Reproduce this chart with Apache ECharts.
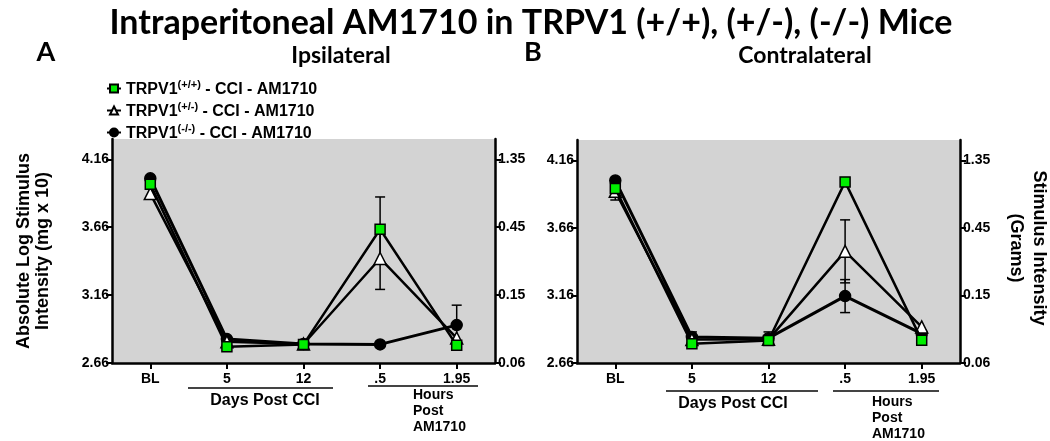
<!DOCTYPE html>
<html><head><meta charset="utf-8">
<script src="https://cdn.jsdelivr.net/npm/echarts@6/dist/echarts.min.js"></script>
<style>html,body{margin:0;padding:0;background:#fff}#c{width:1050px;height:441px}</style>
</head><body><div id="c"></div>
<script>
const categories = ['BL', '5', '12', '.5', '1.95'];
const seriesNames = ['TRPV1(+/+) - CCI - AM1710', 'TRPV1(+/-) - CCI - AM1710', 'TRPV1(-/-) - CCI - AM1710'];
// Ipsilateral
const ipsiWT  = [3.976, 2.780, 2.797, 3.645, 2.790];
const ipsiHet = [3.908, 2.817, 2.800, 3.430, 2.844];
const ipsiKO  = [4.020, 2.836, 2.800, 2.797, 2.939];
const ipsiWTErr  = [0, 0, 0, 0.238, 0];
const ipsiHetErr = [0.040, 0, 0, 0.228, 0];
const ipsiKOErr  = [0, 0, 0, 0, 0.147];
// Contralateral
const contraWT  = [3.952, 2.802, 2.827, 4.000, 2.829];
const contraHet = [3.930, 2.834, 2.835, 3.486, 2.927];
const contraKO  = [4.011, 2.853, 2.844, 3.155, 2.878];
const contraWTErr  = [0, 0, 0, 0, 0];
const contraHetErr = [0.064, 0, 0, 0.233, 0];
const contraKOErr  = [0, 0.037, 0.046, 0.122, 0];
// Axis ticks
const leftTicks = [2.66, 3.16, 3.66, 4.16];
const rightTickLabels = ['0.06', '0.15', '0.45', '1.35'];

const chart = echarts.init(document.getElementById('c'), null, {renderer: 'canvas'});
const FONT = 'Liberation Sans, Arial, sans-serif';
const TFONT = 'Lato, Open Sans, sans-serif';

const styles = [
  {symbol: 'rect', size: 10, color: '#00ee00', lw: 2.5},
  {symbol: 'triangle', size: 12, color: '#ffffff', lw: 2.5},
  {symbol: 'circle', size: 11, color: '#000000', lw: 3}
];

function errData(vals, errs) {
  const out = [];
  vals.forEach((v, i) => { if (errs[i] > 0) out.push([i, v - errs[i], v + errs[i]]); });
  return out;
}
function errSeries(vals, errs, gi) {
  return {
    type: 'custom', xAxisIndex: gi, yAxisIndex: gi * 2, z: 1, silent: true,
    data: errData(vals, errs),
    encode: {x: 0, y: [1, 2]},
    renderItem: function (params, api) {
      const lo = api.coord([api.value(0), api.value(1)]);
      const hi = api.coord([api.value(0), api.value(2)]);
      const cw = 5;
      const st = {stroke: '#000', lineWidth: 1.5};
      return {type: 'group', children: [
        {type: 'line', shape: {x1: lo[0], y1: lo[1], x2: hi[0], y2: hi[1]}, style: st},
        {type: 'line', shape: {x1: lo[0] - cw, y1: lo[1], x2: lo[0] + cw, y2: lo[1]}, style: st},
        {type: 'line', shape: {x1: hi[0] - cw, y1: hi[1], x2: hi[0] + cw, y2: hi[1]}, style: st}
      ]};
    }
  };
}
function lineSeries(idx, vals, gi) {
  const s = styles[idx];
  return {
    type: 'line', name: seriesNames[idx], xAxisIndex: gi, yAxisIndex: gi * 2,
    data: vals, symbol: s.symbol, symbolSize: s.size, showSymbol: true, z: 3 + (2 - idx),
    lineStyle: {color: '#000', width: s.lw},
    itemStyle: {color: s.color, borderColor: '#000', borderWidth: 1.5, opacity: 1},
    emphasis: {disabled: true}
  };
}

const grids = [
  {left: 112, top: 139, width: 383, height: 224},
  {left: 577, top: 140, width: 383, height: 223}
];
const yMin = 2.66, yMax = 4.31;
function yAxes(gi) {
  const common = {
    type: 'value', gridIndex: gi, min: yMin, max: yMax,
    splitLine: {show: false},
    axisLine: {show: true, lineStyle: {color: '#000', width: 2.5}},
    axisTick: {show: true, length: 6, inside: false, lineStyle: {color: '#000', width: 2}, customValues: leftTicks},
  };
  return [
    Object.assign({}, common, {position: 'left',
      axisLabel: {customValues: leftTicks, color: '#000', fontFamily: FONT, fontWeight: 'bold', fontSize: 14, margin: 3,
        formatter: v => v.toFixed(2)}}),
    Object.assign({}, common, {position: 'right',
      axisLabel: {customValues: leftTicks, color: '#000', fontFamily: FONT, fontWeight: 'bold', fontSize: 14, margin: 3,
        formatter: v => { const i = leftTicks.findIndex(t => Math.abs(t - v) < 1e-6); return i >= 0 ? rightTickLabels[i] : ''; }}})
  ];
}
function xAxis(gi) {
  return {
    type: 'category', gridIndex: gi, data: categories, boundaryGap: true,
    axisLine: {show: true, lineStyle: {color: '#000', width: 2.5}},
    axisTick: {show: true, alignWithLabel: true, length: 6, lineStyle: {color: '#000', width: 2}},
    axisLabel: {color: '#000', fontFamily: FONT, fontWeight: 'bold', fontSize: 14, margin: 9},
    splitLine: {show: false}
  };
}

const gridBg = grids.map(g => Object.assign({show: true, backgroundColor: '#d3d3d3', borderWidth: 0}, g));

const txt = (x, y, text, opts) => ({type: 'text', x, y, silent: true,
  style: Object.assign({text, fill: '#000', font: 'bold 13px ' + FONT, align: 'center', verticalAlign: 'middle'}, opts || {})});
const ln = (x1, y1, x2, lineY) => ({type: 'line', silent: true, shape: {x1, y1: lineY, x2, y2: lineY}, style: {stroke: '#444', lineWidth: 2}});

const option = {
  animation: false,
  grid: gridBg,
  xAxis: [xAxis(0), xAxis(1)],
  yAxis: yAxes(0).concat(yAxes(1)),
  legend: {
    orient: 'vertical', left: 101, top: 74, itemGap: 3, itemWidth: 14, itemHeight: 10,
    data: seriesNames.slice(),
    selectedMode: false,
    formatter: function (name) {
      const m = name.match(/^(TRPV1)(\(.*?\))(.*)$/);
      return '{b|' + m[1] + '}{s|' + m[2] + '}{b|' + m[3] + '}';
    },
    textStyle: {
      rich: {
        b: {fontFamily: FONT, fontWeight: 'bold', fontSize: 16, color: '#000', lineHeight: 19, verticalAlign: 'bottom'},
        s: {fontFamily: FONT, fontWeight: 'bold', fontSize: 11, color: '#000', lineHeight: 19, verticalAlign: 'top', padding: [0, 0, 7, 0]}
      }
    }
  },
  series: [
    errSeries(ipsiKO, ipsiKOErr, 0), errSeries(ipsiHet, ipsiHetErr, 0), errSeries(ipsiWT, ipsiWTErr, 0),
    lineSeries(2, ipsiKO, 0), lineSeries(1, ipsiHet, 0), lineSeries(0, ipsiWT, 0),
    errSeries(contraKO, contraKOErr, 1), errSeries(contraHet, contraHetErr, 1), errSeries(contraWT, contraWTErr, 1),
    lineSeries(2, contraKO, 1), lineSeries(1, contraHet, 1), lineSeries(0, contraWT, 1)
  ],
  graphic: [
    txt(531, 23, 'Intraperitoneal AM1710 in TRPV1 (+/+), (+/-), (-/-) Mice', {font: 'bold 34px ' + TFONT}),
    txt(46, 52, 'A', {font: 'bold 27px ' + TFONT}),
    txt(533, 52, 'B', {font: 'bold 27px ' + TFONT}),
    txt(341, 56, 'Ipsilateral', {font: 'bold 23px ' + TFONT}),
    txt(805, 56, 'Contralateral', {font: 'bold 23px ' + TFONT}),
    {type: 'text', x: 34, y: 251, rotation: Math.PI / 2, silent: true,
      style: {text: 'Absolute Log Stimulus\nIntensity (mg x 10)', fill: '#000', font: 'bold 18px ' + FONT, align: 'center', verticalAlign: 'middle', lineHeight: 19}},
    {type: 'text', x: 1027, y: 248, rotation: -Math.PI / 2, silent: true,
      style: {text: 'Stimulus Intensity\n(Grams)', fill: '#000', font: 'bold 18px ' + FONT, align: 'center', verticalAlign: 'middle', lineHeight: 23}},
    // Left panel group labels
    ln(188, 0, 333, 388), txt(265, 401, 'Days Post CCI', {font: 'bold 16px ' + FONT}),
    ln(368, 0, 478, 386), txt(413, 411, 'Hours\nPost\nAM1710', {font: 'bold 14px ' + FONT, align: 'left', lineHeight: 16}),
    // Right panel group labels
    ln(666, 0, 818, 391), txt(733, 404, 'Days Post CCI', {font: 'bold 16px ' + FONT}),
    ln(833, 0, 939, 391), txt(872, 418, 'Hours\nPost\nAM1710', {font: 'bold 14px ' + FONT, align: 'left', lineHeight: 16})
  ]
};
chart.setOption(option);
</script>
</body></html>
